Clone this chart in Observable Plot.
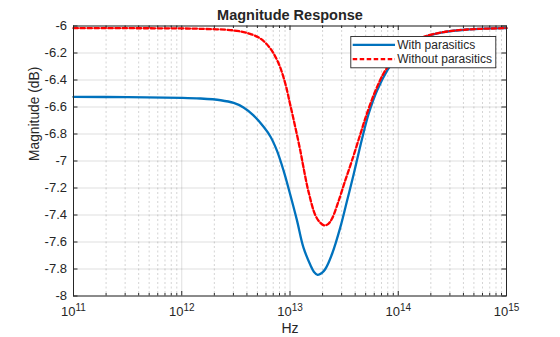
<!DOCTYPE html>
<html><head><meta charset="utf-8">
<script src="https://cdn.jsdelivr.net/npm/d3@7"></script>
<script src="https://cdn.jsdelivr.net/npm/@observablehq/plot@0.6"></script>
<style>
body{margin:0;background:#fff;}
#chart svg{font-family:"Liberation Sans",Arial,Helvetica,sans-serif;}
</style></head><body><div id="chart"></div>
<script>
const title = "Magnitude Response";
const xLabel = "Hz";
const yLabel = "Magnitude (dB)";
const seriesNames = ["With parasitics", "Without parasitics"];

// With parasitics (Hz, dB)
const freqWith = [1e11, 3.16e11, 1e12, 1.48e12, 2.29e12, 3.02e12, 3.72e12, 4.57e12, 5.75e12, 6.61e12, 7.59e12, 8.71e12,
  1e13, 1.16e13, 1.33e13, 1.55e13, 1.66e13, 1.80e13, 1.95e13, 2.12e13, 2.45e13, 2.92e13, 3.37e13, 3.87e13, 4.63e13, 5.33e13,
  6.37e13, 7.89e13, 1e14, 1.26e14, 1.72e14, 2.63e14, 4.32e14, 6.31e14, 1e15];
const dbWith = [-6.525, -6.527, -6.532, -6.537, -6.550, -6.570, -6.603, -6.660, -6.750, -6.820, -6.925, -7.07,
  -7.243, -7.44, -7.64, -7.774, -7.820, -7.843, -7.832, -7.80, -7.687, -7.49, -7.293, -7.10, -6.835, -6.65,
  -6.478, -6.33, -6.215, -6.14, -6.083, -6.046, -6.026, -6.019, -6.016];

// Without parasitics (Hz, dB)
const freqWithout = [1e11, 1e12, 1.48e12, 3.02e12, 4.27e12, 5.37e12, 6.61e12, 7.87e12, 9.06e12, 1e13, 1.12e13, 1.25e13,
  1.33e13, 1.48e13, 1.72e13, 1.91e13, 2.08e13, 2.26e13, 2.44e13, 2.82e13, 3.24e13, 3.74e13, 4.47e13, 5.13e13, 6.17e13, 7.59e13,
  1e14, 1.26e14, 1.72e14, 2.63e14, 4.32e14, 1e15];
const dbWithout = [-6.016, -6.018, -6.021, -6.033, -6.058, -6.095, -6.169, -6.28, -6.428, -6.576, -6.75, -6.93,
  -7.045, -7.225, -7.404, -7.458, -7.478, -7.465, -7.428, -7.293, -7.144, -6.996, -6.80, -6.65, -6.478, -6.33,
  -6.21, -6.135, -6.08, -6.045, -6.026, -6.016];

const xTicks = [1e11, 1e12, 1e13, 1e14, 1e15];
const xTickLabels = ["10¹¹", "10¹²", "10¹³", "10¹⁴", "10¹⁵"];
const yTicks = [-8, -7.8, -7.6, -7.4, -7.2, -7, -6.8, -6.6, -6.4, -6.2, -6];
const yTickLabels = ["-8", "-7.8", "-7.6", "-7.4", "-7.2", "-7", "-6.8", "-6.6", "-6.4", "-6.2", "-6"];

const minorX = [];
for (let i = 0; i < xTicks.length - 1; i++) for (let m = 2; m <= 9; m++) minorX.push(m * xTicks[i]);

const withData = freqWith.map((f, i) => ({f, db: dbWith[i]}));
const withoutData = freqWithout.map((f, i) => ({f, db: dbWithout[i]}));

const W = 560, H = 337, mL = 73, mR = 54, mT = 25.5, mB = 41.5;
const fw = W - mL - mR, fh = H - mT - mB;
const ink = "#262626";
const blue = "#0072BD", red = "#FF0000";
const dash = "4.5,2.5";

const chart = Plot.plot({
  width: W, height: H,
  marginLeft: mL, marginRight: mR, marginTop: mT, marginBottom: mB,
  style: {fontFamily: '"Liberation Sans", Arial, Helvetica, sans-serif', fontSize: "13px", color: ink, background: "white"},
  x: {type: "log", domain: [xTicks[0], xTicks[xTicks.length - 1]]},
  y: {domain: [yTicks[0], yTicks[yTicks.length - 1]]},
  marks: [
    Plot.ruleX(minorX, {stroke: ink, strokeOpacity: 0.2, strokeDasharray: "2,2.5"}),
    Plot.ruleX(xTicks, {stroke: ink, strokeOpacity: 0.15}),
    Plot.ruleY(yTicks, {stroke: ink, strokeOpacity: 0.15}),
    Plot.ruleX(xTicks, {stroke: ink, insetTop: fh - 4.5}),
    Plot.ruleX(xTicks, {stroke: ink, insetBottom: fh - 4.5}),
    Plot.ruleX(minorX, {stroke: ink, insetTop: fh - 2.5}),
    Plot.ruleX(minorX, {stroke: ink, insetBottom: fh - 2.5}),
    Plot.ruleY(yTicks, {stroke: ink, insetRight: fw - 4.5}),
    Plot.ruleY(yTicks, {stroke: ink, insetLeft: fw - 4.5}),
    Plot.axisX(xTicks, {tickSize: 0, tickPadding: 10.3, fontSize: 13, fill: ink, label: null,
      tickFormat: d => xTickLabels[xTicks.indexOf(d)]}),
    Plot.axisY(yTicks, {tickSize: 0, tickPadding: 6.5, fontSize: 13, fill: ink, label: null,
      tickFormat: d => yTickLabels[yTicks.indexOf(d)]}),
    Plot.line(withData, {x: "f", y: "db", stroke: blue, strokeWidth: 2.3, curve: "catmull-rom"}),
    Plot.line(withoutData, {x: "f", y: "db", stroke: red, strokeWidth: 2.3, strokeDasharray: dash, curve: "catmull-rom"}),
    Plot.frame({stroke: ink}),
    // legend
    Plot.frame({fill: "white", stroke: ink, strokeWidth: 0.9, insetLeft: 277.3, insetRight: 10.7, insetTop: 10.5, insetBottom: fh - 41.8}),
    Plot.ruleY([yTicks[yTicks.length - 1]], {stroke: blue, strokeWidth: 2.3, dy: 18.8, insetLeft: 279.7, insetRight: 111}),
    Plot.ruleY([yTicks[yTicks.length - 1]], {stroke: red, strokeWidth: 2.3, strokeDasharray: dash, dy: 33.2, insetLeft: 279.7, insetRight: 111}),
    Plot.text([seriesNames[0]], {frameAnchor: "top-left", dx: 323.7, dy: 18.8, textAnchor: "start", lineAnchor: "middle", fontSize: 12, fill: ink}),
    Plot.text([seriesNames[1]], {frameAnchor: "top-left", dx: 323.7, dy: 33.2, textAnchor: "start", lineAnchor: "middle", fontSize: 12, fill: ink}),
    // title and axis labels
    Plot.text([title], {frameAnchor: "top", dy: -11.1, lineAnchor: "middle", fontSize: 14.5, fontWeight: "bold", fill: ink}),
    Plot.text([xLabel], {frameAnchor: "bottom", dy: 33, lineAnchor: "middle", fontSize: 14, fill: ink}),
    Plot.text([yLabel], {frameAnchor: "left", dx: -39.3, rotate: -90, lineAnchor: "middle", fontSize: 13.8, fill: ink})
  ]
});
document.getElementById("chart").append(chart);

// Tick label / legend sizes as inline styles, x tick exponents as raised text (MATLAB style)
const supMap = {"⁰":"0","¹":"1","²":"2","³":"3","⁴":"4","⁵":"5","⁶":"6","⁷":"7","⁸":"8","⁹":"9"};
d3.select(chart).selectAll("text").each(function() {
  const t = this.textContent;
  const sel = d3.select(this);
  if (yTickLabels.includes(t)) { sel.style("font-size", "13px"); return; }
  if (seriesNames.includes(t)) { sel.style("font-size", "12px"); return; }
  if (!xTickLabels.includes(t)) return;
  sel.style("font-size", "13px");
  const base = t.slice(0, 2);
  const exp = Array.from(t.slice(2)).map(c => supMap[c] || c).join("");
  sel.text(null);
  sel.append("tspan").text(base);
  sel.append("tspan").attr("dy", "-0.42em").style("font-size", "10px").text(exp);
});
</script>
</body></html>
